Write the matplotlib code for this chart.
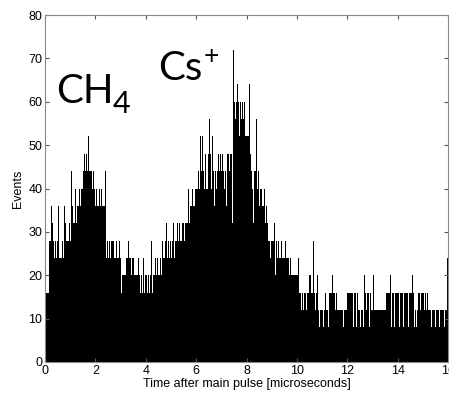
import numpy as np
import matplotlib
matplotlib.use("Agg")
import matplotlib.pyplot as plt

# events per 0.04 us bin, one row per microsecond
row00 = [16,16,16,16,28,28,36,32,28,24,28,24,28,36,24,24,24,28,24,36,32,28,28,28,32]
row01 = [28,44,36,32,32,40,32,36,36,40,36,40,40,44,48,44,48,44,52,44,44,44,40,44,40]
row02 = [36,40,36,36,40,36,40,36,36,36,44,24,28,24,28,24,28,28,24,24,28,24,24,28,24]
row03 = [16,20,20,20,20,24,24,28,24,24,20,24,24,20,20,20,20,24,20,16,20,16,24,16,20]
row04 = [20,16,20,16,20,28,16,20,20,24,20,24,20,20,24,20,28,24,24,28,32,24,28,24,28]
row05 = [24,28,32,24,28,28,32,28,32,28,28,32,32,28,32,32,32,40,32,36,36,40,36,36,40]
row06 = [40,40,44,40,52,44,52,44,40,48,40,40,48,56,48,40,52,44,36,44,40,44,48,44,48]
row07 = [44,48,44,40,44,36,48,48,44,48,48,32,72,60,56,60,64,60,52,60,56,60,56,60,52]
row08 = [52,52,64,48,44,40,32,44,44,56,40,44,36,40,40,36,36,40,32,36,32,28,28,24,28]
row09 = [28,28,32,20,28,24,28,24,24,28,24,24,24,28,24,24,24,20,24,20,20,20,20,20,20]
row10 = [20,24,16,16,12,16,12,16,16,12,16,16,20,20,16,16,28,16,12,16,20,12,8,12,12]
row11 = [12,8,12,16,12,12,8,16,16,16,20,16,16,12,16,12,12,12,12,12,12,8,12,12,12]
row12 = [16,16,16,16,16,16,8,16,16,8,16,12,12,8,12,12,8,20,16,12,16,16,8,16,12]
row13 = [12,20,12,12,12,12,12,12,12,12,12,12,12,16,16,16,16,20,8,16,16,8,16,16,16]
row14 = [16,8,16,16,16,8,16,16,16,16,8,16,16,16,20,16,8,12,8,12,16,16,12,16,16]
row15 = [16,12,16,12,16,12,12,12,8,12,12,12,8,12,12,12,8,12,12,12,12,8,12,12,24]

counts = np.array(row00 + row01 + row02 + row03 + row04 + row05 + row06 + row07 +
                  row08 + row09 + row10 + row11 + row12 + row13 + row14 + row15)
bin_width = 0.04
edges = np.arange(len(counts) + 1) * bin_width

plt.rcParams["font.family"] = ["Liberation Sans", "DejaVu Sans"]

fig = plt.figure(figsize=(4.49, 4.01), dpi=100)
ax = fig.add_axes([45/449, 1 - 362/401, 403/449, 347/401])

ax.stairs(counts, edges, fill=True, color="black", linewidth=0.6)

ax.set_xlim(0, 16)
ax.set_ylim(0, 80)
ax.set_xticks(np.arange(0, 17, 2))
ax.set_yticks(np.arange(0, 81, 10))
ax.tick_params(direction="in", length=3, top=True, right=True, labelsize=9,
               color="#555555", pad=2)
for s in ax.spines.values():
    s.set_color("#888888")
    s.set_linewidth(0.8)

ax.set_xlabel("Time after main pulse [microseconds]", fontsize=9, labelpad=1)
ax.set_ylabel("Events", fontsize=9, labelpad=3)

# peak labels
fig.text(56/449, 1 - 103/401, "CH", fontsize=29, family="Lato", va="baseline")
fig.text(113/449, 1 - 113/401, "4", fontsize=22, family="Lato", va="baseline")
fig.text(158/449, 1 - 80/401, "Cs", fontsize=29, family="Lato", va="baseline")
fig.text(204/449, 1 - 64/401, "+", fontsize=19, family="Lato", va="baseline")

fig.savefig("out.png", dpi=100)
